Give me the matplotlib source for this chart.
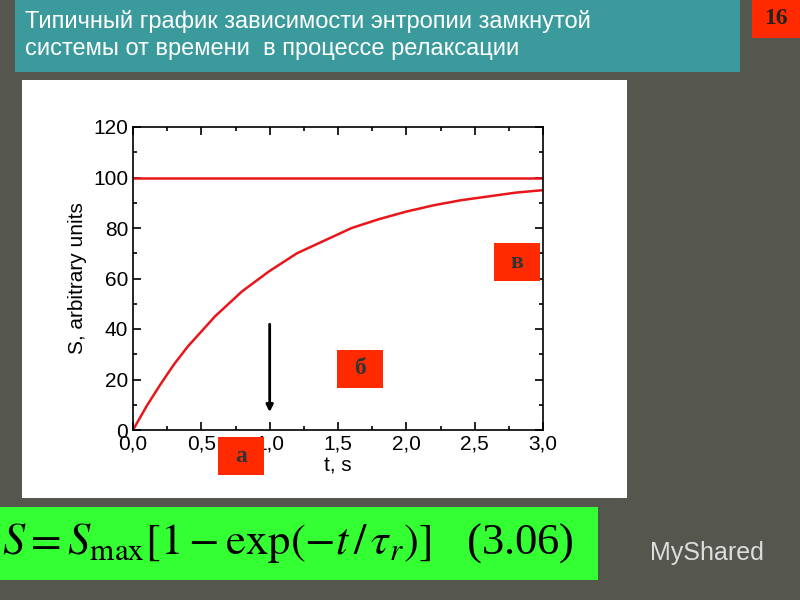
import matplotlib
matplotlib.use("Agg")
import matplotlib.pyplot as plt
from matplotlib.patches import Rectangle

# values
t_values = [0.0, 0.1, 0.2, 0.3, 0.4, 0.5, 0.6, 0.7, 0.8, 0.9, 1.0, 1.2, 1.4, 1.6,
            1.8, 2.0, 2.2, 2.4, 2.6, 2.8, 3.0]
s_values = [0, 9.5, 18, 26, 33, 39, 45, 50, 55, 59, 63, 70, 75, 80,
            83.5, 86.5, 89, 91, 92.5, 94, 95]
s_max = 100
x_ticks = [0.0, 0.5, 1.0, 1.5, 2.0, 2.5, 3.0]
x_tick_labels = ["0,0", "0,5", "1,0", "1,5", "2,0", "2,5", "3,0"]
y_ticks = [0, 20, 40, 60, 80, 100, 120]

plt.rcParams["font.family"] = ["Liberation Sans", "DejaVu Sans"]
fig = plt.figure(figsize=(8, 6), dpi=100)
fig.patch.set_facecolor("#55564e")


def box(x, y, w, h, colour, z=-1):
    # pixel coords from the top-left corner of the slide
    fig.patches.append(Rectangle((x / 800, 1 - (y + h) / 600), w / 800, h / 600,
                                 transform=fig.transFigure, facecolor=colour,
                                 edgecolor="none", zorder=z))


box(15, 0, 725, 72, "#3a9a9c")
box(752, 0, 48, 38, "#ff2a00")
box(22, 80, 605, 418, "white")
box(0, 507, 598, 73, "#33ff33")

fig.text(25 / 800, 1 - 10 / 600, "Типичный график зависимости энтропии замкнутой\nсистемы от времени  в процессе релаксации",
         color="white", fontsize=17, va="top", ha="left", linespacing=1.3)
fig.text(776 / 800, 1 - 19 / 600, "16", color="#222222", fontsize=17, fontweight="bold",
         ha="center", va="center", family="Liberation Serif")
fig.text(2 / 800, 1 - 543 / 600,
         r"$S = S_{\mathrm{max}}\left[1 - \mathrm{exp}\left(-t\,/\,\tau_r\right)\right]$   (3.06)",
         fontsize=32, va="center", ha="left", family="Liberation Serif",
         math_fontfamily="stix")
fig.text(650 / 800, 1 - 553 / 600, "MyShared", color="#dddddd", fontsize=18, va="center", ha="left")

ax = fig.add_axes([133 / 800, 1 - 430 / 600, 410 / 800, 303 / 600])
ax.set_zorder(5)
ax.plot(t_values, s_values, color="#e8161b", lw=1.8)
ax.axhline(s_max, color="#e8161b", lw=1.8)
ax.set_xlim(0, 3)
ax.set_ylim(0, 120)
ax.set_xticks(x_ticks)
ax.set_xticklabels(x_tick_labels)
ax.set_yticks(y_ticks)
ax.set_xticks([0.25, 0.75, 1.25, 1.75, 2.25, 2.75], minor=True)
ax.set_yticks([10, 30, 50, 70, 90, 110], minor=True)
for sp in ax.spines.values():
    sp.set_linewidth(1.2)
ax.tick_params(labelsize=15, direction="in", top=True, right=True, which="both", width=1.2)
ax.tick_params(which="major", length=6)
ax.tick_params(which="minor", length=3)
ax.set_xlabel("t, s", fontsize=15, labelpad=2)
ax.set_ylabel("S, arbitrary units", fontsize=15)
ax.annotate("", xy=(1.0, 6), xytext=(1.0, 43),
            arrowprops=dict(arrowstyle="-|>", color="black", lw=2))

for (x, y, w, h, s) in [(218, 437, 46, 38, "а"), (337, 350, 46, 38, "б"), (494, 243, 46, 38, "в")]:
    box(x, y, w, h, "#ff2a00", z=10)
    fig.text((x + w / 2) / 800, 1 - (y + h / 2) / 600, s, fontsize=17, fontweight="bold",
             ha="center", va="center", color="#333333", family="Liberation Serif", zorder=11)

fig.savefig("out.png", dpi=100, facecolor=fig.get_facecolor())
